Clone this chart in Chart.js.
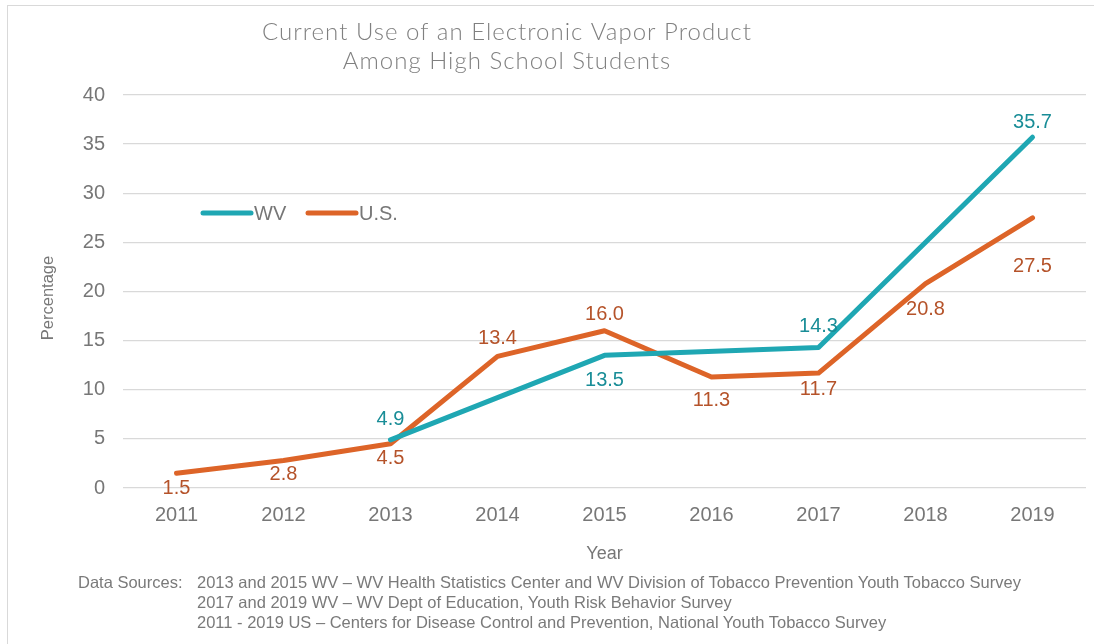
<!DOCTYPE html>
<html>
<head>
<meta charset="utf-8">
<script src="https://cdn.jsdelivr.net/npm/chart.js@4.4.1/dist/chart.umd.min.js"></script>
<style>
html, body { margin: 0; padding: 0; background: #fff; }
#wrap { position: relative; width: 1094px; height: 644px; overflow: hidden; }
#frame { position: absolute; left: 7px; top: 5px; width: 1200px; height: 700px;
         border-top: 1px solid #d9d9d9; border-left: 1px solid #d9d9d9; }
canvas { position: absolute; left: 0; top: 0; }
.note { position: absolute; font-family: "Liberation Sans", Arial, sans-serif; font-size: 16.5px;
        line-height: 20px; color: #7a7a7a; white-space: nowrap; }
</style>
</head>
<body>
<div id="wrap">
  <div id="frame"></div>
  <canvas id="chart" width="1094" height="644"></canvas>
  <div class="note" style="left:78px; top:572px;">Data Sources:</div>
  <div class="note" style="left:197px; top:572px;">
    2013 and 2015 WV – WV Health Statistics Center and WV Division of Tobacco Prevention Youth Tobacco Survey<br>
    2017 and 2019 WV – WV Dept of Education, Youth Risk Behavior Survey<br>
    2011 - 2019 US – Centers for Disease Control and Prevention, National Youth Tobacco Survey
  </div>
</div>
<script>
"use strict";

var years = ["2011", "2012", "2013", "2014", "2015", "2016", "2017", "2018", "2019"];
var wvValues = [null, null, 4.9, null, 13.5, null, 14.3, null, 35.7];
var usValues = [1.5, 2.8, 4.5, 13.4, 16.0, 11.3, 11.7, 20.8, 27.5];
var yMin = 0, yMax = 40, yStep = 5;

var TEAL = "#1fa7b3";
var ORANGE = "#dd6428";
var GREY = "#777777";
var ARIAL = '"Liberation Sans", Arial, sans-serif';

// where each value label sits relative to its point (px, + is below)
var labelShift = {
    "WV": [0, 0, -20, 0, 25, 0, -21, 0, -15],
    "U.S.": [15, 14, 15, -18, -16, 24, 16, 26, 49]
};
var labelColor = { "WV": "#198d97", "U.S.": "#b5532a" };

var overlay = {
    id: "overlay",
    afterDatasetsDraw: function (chart) {
        var ctx = chart.ctx;
        ctx.save();
        ctx.textAlign = "center";
        ctx.textBaseline = "middle";
        ctx.font = "20px " + ARIAL;
        chart.data.datasets.forEach(function (ds, di) {
            var meta = chart.getDatasetMeta(di);
            meta.data.forEach(function (pt, i) {
                var v = ds.data[i];
                if (v === null) return;
                ctx.fillStyle = labelColor[ds.label];
                ctx.fillText(v.toFixed(1), pt.x, pt.y + labelShift[ds.label][i]);
            });
        });

        // legend inside the plot
        var items = [[203, chart.data.datasets[0]], [308, chart.data.datasets[1]]];
        ctx.textAlign = "left";
        items.forEach(function (it) {
            ctx.strokeStyle = it[1].borderColor;
            ctx.lineWidth = 5;
            ctx.lineCap = "round";
            ctx.beginPath();
            ctx.moveTo(it[0], 213);
            ctx.lineTo(it[0] + 48, 213);
            ctx.stroke();
            ctx.fillStyle = GREY;
            ctx.fillText(it[1].label, it[0] + 51, 214);
        });

        // y axis title
        ctx.save();
        ctx.translate(48, 298);
        ctx.rotate(-Math.PI / 2);
        ctx.textAlign = "center";
        ctx.font = "16.5px " + ARIAL;
        ctx.fillText("Percentage", 0, 0);
        ctx.restore();

        // title
        ctx.textAlign = "center";
        ctx.fillStyle = "#808080";
        ctx.font = "300 24px Lato, sans-serif";
        ctx.letterSpacing = "1px";
        ctx.fillText("Current Use of an Electronic Vapor Product", 507, 32);
        ctx.fillText("Among High School Students", 507, 61);
        ctx.restore();
    }
};

var ctx = document.getElementById("chart").getContext("2d");

var myChart = new Chart(ctx, {
    type: "line",
    data: {
        labels: years,
        datasets: [
            {
                label: "WV",
                data: wvValues,
                borderColor: TEAL,
                borderWidth: 5,
                pointRadius: 0,
                spanGaps: true,
                borderCapStyle: "round",
                borderJoinStyle: "round",
                tension: 0
            },
            {
                label: "U.S.",
                data: usValues,
                borderColor: ORANGE,
                borderWidth: 5,
                pointRadius: 0,
                borderCapStyle: "round",
                borderJoinStyle: "round",
                tension: 0
            }
        ]
    },
    options: {
        responsive: false,
        animation: false,
        layout: { padding: { left: 34, right: 8, top: 95, bottom: 66 } },
        plugins: {
            legend: { display: false },
            title: { display: false },
            tooltip: { enabled: false }
        },
        scales: {
            x: {
                offset: true,
                grid: { display: false, drawTicks: false },
                border: { display: false },
                ticks: { color: GREY, font: { family: ARIAL, size: 20 }, padding: 15 },
                title: { display: true, text: "Year", color: GREY,
                         font: { family: ARIAL, size: 18 }, padding: { top: 4, bottom: 13 } },
                afterFit: function (scale) { scale.height = 90; }
            },
            y: {
                min: yMin,
                max: yMax,
                grid: { color: "#d9d9d9", lineWidth: 1.3, drawTicks: false },
                border: { display: false },
                ticks: { stepSize: yStep, color: GREY, font: { family: ARIAL, size: 20 }, padding: 18 },
                title: { display: false },
                afterFit: function (scale) { scale.width = 89; }
            }
        }
    },
    plugins: [overlay]
});
</script>
</body>
</html>
